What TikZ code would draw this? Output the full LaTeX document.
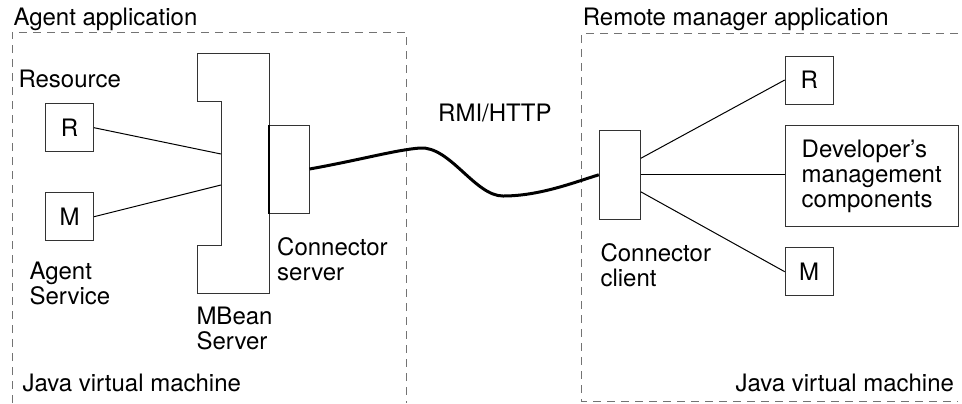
\documentclass[tikz,border=0pt]{standalone}
\usepackage{fontspec}
\setmainfont{TeX Gyre Heros}

\begin{document}
\begin{tikzpicture}[x=0.5pt, y=-0.5pt, line width=.5pt,
    font=\fontsize{12}{12.5}\selectfont,
    box/.style={draw=black!80, inner sep=0pt, minimum width=24pt, minimum height=24pt},
    lbl/.style={inner sep=0pt, anchor=base west, align=left},
    jvm/.style={draw=black!55, dash pattern=on 4pt off 3pt}]
    \useasboundingbox (0, 0) rectangle (962, 403);

    % the two virtual machines
    \draw[jvm] (12, 403) -- (12, 32) -- (406, 32) -- (406, 403);
    \draw[jvm] (958, 33.3) -- (581.7, 33.3) -- (581.7, 401.7) -- (958, 401.7);

    \node[lbl] (agentapp) at (13, 25) {Agent application};
    \node[lbl] (remoteapp) at (582.3, 25) {Remote manager application};
    \node[lbl] (jvmleft) at (22, 391.7) {Java virtual machine};
    \node[lbl] (jvmright) at (735, 391.7) {Java virtual machine};

    % agent side
    \node[box] (resR) at (69.5, 127.7) {R};
    \node[box] (resM) at (69.5, 216.7) {M};
    \node[lbl] (resource) at (18, 87.7) {Resource};
    \node[lbl] (agentsvc) at (29, 304) {Agent\\Service};

    \draw[black!80] (197, 53) -- (269, 53) -- (269, 293) -- (197, 293)
        -- (197, 245) -- (221, 245) -- (221, 101) -- (197, 101) -- cycle;
    \coordinate (mbsR) at (221, 154);
    \coordinate (mbsM) at (221, 185);
    \node[lbl] (mbeansrv) at (196, 349.3) {MBean\\Server};

    \node[box, minimum width=20pt, minimum height=44pt] (connsrv) at (289, 169) {};
    \draw[line width=1pt] (connsrv.north west) -- (connsrv.south west);
    \node[lbl] (connsrvlbl) at (276.7, 280) {Connector\\server};

    \draw (resR.east) -- (mbsR);
    \draw (resM.east) -- (mbsM);

    % manager side
    \node[box, minimum width=20.5pt, minimum height=44.2pt] (conncli) at (619.8, 174.8) {};
    \node[lbl] (connclilbl) at (600, 286.7) {Connector\\client};

    \node[box] (mgrR) at (809.2, 80) {R};
    \node[box] (mgrM) at (809.2, 271.7) {M};
    \node[box, minimum width=86.7pt, minimum height=50.5pt, align=left] (devcomp)
        at (871.7, 176.2) {Developer's\\management\\components};

    \draw ([yshift=8.25pt]conncli.east) -- (mgrR.west);
    \draw (conncli.east) -- (conncli.east -| devcomp.west);
    \draw ([yshift=-8.5pt]conncli.east) -- (mgrM.west);

    % the cable
    \node[lbl] (rmihttp) at (437.7, 121.7) {RMI/HTTP};
    \draw[line width=1.5pt] (connsrv.east) .. controls (360, 160) and (395, 150) .. (420, 148)
        .. controls (450, 146) and (475, 196) .. (503, 196)
        .. controls (540, 196) and (575, 182) .. (conncli.west);
\end{tikzpicture}
\end{document}
